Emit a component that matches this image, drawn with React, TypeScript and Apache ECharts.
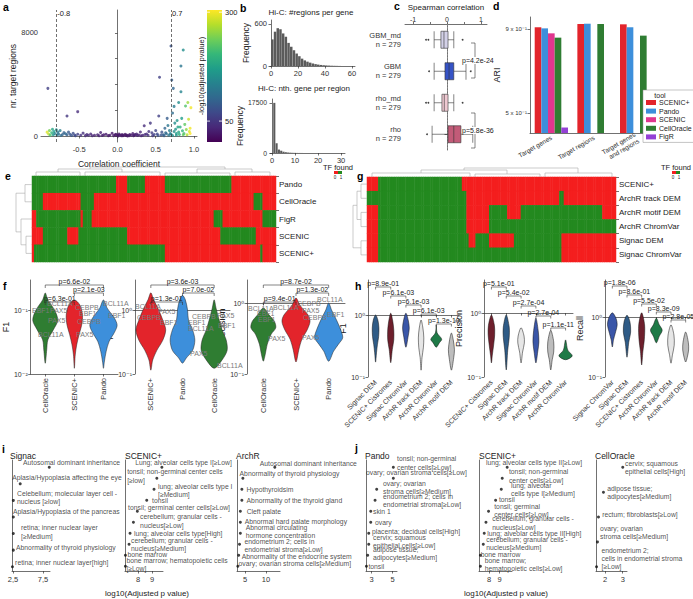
import React, { useEffect, useRef } from 'react';
import * as echarts from 'echarts';

const FONT = "'Liberation Sans', Arial, 'DejaVu Sans', sans-serif";

// ---------------- a: correlation vs target regions ----------------
// [correlation, nr target regions, -log10(adj p)]
const aPoints = [
  [-0.92, 300, 290], [-0.9, 150, 275], [-0.89, 420, 240], [-0.88, 60, 220], [-0.86, 250, 200], [-0.85, 520, 180],
  [-0.84, 100, 165], [-0.83, 350, 170], [-0.82, 200, 140], [-0.8, 480, 150], [-0.79, 80, 130], [-0.78, 300, 125],
  [-0.77, 150, 115], [-0.75, 420, 130], [-0.74, 40, 110], [-0.72, 120, 100], [-0.7, 260, 95], [-0.68, 180, 105],
  [-0.66, 90, 95], [-0.64, 300, 88], [-0.62, 130, 85], [-0.6, 40, 80], [-0.58, 210, 75], [-0.56, 80, 70],
  [-0.55, 20, 70], [-0.52, 140, 60], [-0.48, 60, 45], [-0.45, 220, 45], [-0.42, 30, 38], [-0.4, 110, 40],
  [-0.38, 60, 40], [-0.35, 160, 35], [-0.33, 20, 32], [-0.3, 60, 30], [-0.26, 100, 30], [-0.24, 20, 28],
  [-0.22, 270, 30], [-0.2, 40, 25], [-0.18, 90, 25], [-0.15, 130, 25], [-0.12, 30, 22], [-0.1, 60, 20],
  [-0.07, 210, 20], [-0.05, 30, 20], [-0.03, 90, 20], [-0.02, 140, 20], [0.0, 50, 20], [0.01, 10, 20],
  [0.02, 160, 20], [0.03, 80, 20], [0.05, 30, 20], [0.06, 120, 20], [0.07, 20, 20], [0.08, 60, 20],
  [0.1, 130, 20], [0.11, 40, 20], [0.12, 70, 20], [0.13, 10, 20], [0.15, 30, 22], [0.16, 110, 22],
  [0.18, 60, 25], [0.2, 200, 25], [0.21, 20, 25], [0.22, 60, 25], [0.23, 110, 28], [0.25, 150, 30],
  [0.26, 40, 30], [0.28, 80, 30], [0.3, 310, 35], [0.31, 20, 32], [0.33, 50, 35], [0.35, 800, 40],
  [0.36, 120, 40], [0.38, 160, 40], [0.4, 60, 45], [0.41, 350, 45], [0.43, 1000, 50], [0.45, 250, 55],
  [0.46, 30, 50], [0.48, 110, 60], [0.5, 420, 65], [0.52, 150, 70], [0.53, 40, 75], [0.54, 1550, 60],
  [0.55, 4560, 60], [0.57, 80, 80], [0.58, 300, 80], [0.6, 100, 90], [0.61, 30, 95], [0.62, 600, 100],
  [0.63, 250, 105], [0.64, 180, 110], [0.65, 1370, 90], [0.66, 820, 120], [0.67, 60, 120], [0.68, 420, 130],
  [0.69, 200, 125], [0.7, 6990, 80], [0.7, 140, 140], [0.71, 4350, 90], [0.72, 1780, 110], [0.72, 40, 150],
  [0.73, 3700, 100], [0.74, 2300, 130], [0.74, 350, 150], [0.75, 1000, 150], [0.76, 520, 160], [0.77, 200, 170],
  [0.77, 60, 160], [0.78, 1200, 160], [0.79, 700, 175], [0.8, 300, 180], [0.8, 2600, 150], [0.81, 120, 190],
  [0.82, 700, 190], [0.83, 5440, 120], [0.83, 3440, 140], [0.84, 1370, 170], [0.85, 400, 200], [0.86, 6680, 150],
  [0.86, 100, 230], [0.87, 200, 220], [0.88, 900, 230], [0.89, 2330, 220], [0.9, 500, 250], [0.91, 100, 270],
  [0.92, 2600, 260], [0.93, 1300, 280], [0.94, 350, 290], [0.95, 600, 300], [0.96, 2200, 300], [0.95, 200, 305],
  [-0.91, 3700, 60], [-0.66, 1550, 50], [-0.52, 1890, 40],
];
const aThresholds = [-0.8, 0.7];
const aPvalRange = [2, 305];
const aColorbarTicks = [50, 300];
const viridis = ['#440154', '#482878', '#3e4989', '#31688e', '#26828e', '#1f9e89', '#35b779', '#6ece58', '#b5de2b', '#fde725'];

// ---------------- b: Hi-C histograms ----------------
const bRegionsBins = [1, 3, 5, 7, 9, 11, 13, 15, 17, 19, 21, 23, 25, 27, 29, 31, 33, 35, 37, 39, 41, 43, 45, 47, 49, 51];
const bRegionsFreq = [380, 490, 540, 525, 465, 418, 330, 275, 225, 178, 140, 105, 80, 62, 48, 36, 27, 20, 15, 11, 8, 6, 4, 3, 2, 1];
const bGeneBins = [1, 2, 3, 4, 5, 6, 7, 8, 9, 10, 11, 12, 13, 14, 15, 16, 17, 18];
const bGeneFreq = [17500, 3400, 1200, 800, 450, 280, 170, 110, 70, 45, 30, 20, 13, 8, 5, 3, 2, 1];

// ---------------- c: Spearman boxplots ----------------
const cGroups = ['GBM_md\nn = 279', 'GBM\nn = 279', 'rho_md\nn = 279', 'rho\nn = 279'];
const cBoxStats = [
  [-0.38, -0.18, -0.09, 0.03, 0.2],
  [-0.38, -0.06, 0.06, 0.2, 0.56],
  [-0.38, -0.15, -0.08, 0.03, 0.2],
  [-0.44, 0.03, 0.2, 0.41, 0.76],
];
const cOutliers = [[-0.62, 0], [-0.55, 0], [0.46, 0], [-0.53, 1], [0.7, 1], [-0.62, 2], [-0.55, 2], [0.46, 2], [-0.59, 3]];
const cColors = ['#d3d1e8', '#3553c6', '#efc9d2', '#c25b78'];
const cPvals = ['p=4.2e-24', 'p=5.8e-36'];

// ---------------- d: ARI bars ----------------
const dCategories = ['Target genes', 'Target regions', 'Target genes\nand regions'];
const dTools = ['SCENIC+', 'Pando', 'SCENIC', 'CellOracle', 'FigR'];
const dScenicPlus = [0.911, 0.932, 0.93];
const dPando = [0.904, 0.934, 0.911];
const dScenic = [0.873, null, null];
const dCellOracle = [0.847, 0.932, 0.859];
const dFigR = [0.451, null, null];
const dToolColors = ['#e3242b', '#3d8fdb', '#e0368e', '#2f7d32', '#9440d6'];
const dAxisRange = [0.434, 0.979];
const dTicks = [0.5, 0.9];

// ---------------- e / g: TF found heatmaps (run-length: [found, columns]) ----------------
const eRows = ['Pando', 'CellOracle', 'FigR', 'SCENIC', 'SCENIC+'];
const ePandoRuns = [[1, 38], [0, 5], [1, 8], [0, 9], [1, 30], [0, 20]];
const eCellOracleRuns = [[1, 5], [0, 17], [1, 6], [0, 72], [1, 4], [0, 6]];
const eFigRRuns = [[0, 2], [1, 20], [0, 1], [1, 4], [0, 55], [1, 4], [0, 18], [1, 6]];
const eScenicRuns = [[0, 5], [1, 11], [0, 5], [1, 22], [0, 42], [1, 16], [0, 9]];
const eScenicPlusRuns = [[0, 1], [1, 59], [0, 43], [1, 1], [0, 6]];

const gRows = ['SCENIC+', 'ArchR track DEM', 'ArchR motif DEM', 'ArchR ChromVar', 'Signac DEM', 'Signac ChromVar'];
const gScenicPlusRuns = [[0, 5], [1, 37], [0, 68]];
const gArchrTrackRuns = [[1, 44], [0, 41], [1, 2], [0, 23]];
const gArchrMotifRuns = [[0, 5], [1, 39], [0, 10], [1, 8], [0, 6], [1, 36], [0, 6]];
const gArchrChromVarRuns = [[0, 5], [1, 39], [0, 10], [1, 56]];
const gSignacDemRuns = [[0, 5], [1, 40], [0, 3], [1, 6], [0, 11], [1, 21], [0, 24]];
const gSignacChromVarRuns = [[0, 5], [1, 81], [0, 24]];
const TF_RED = '#f41e1e';
const TF_GREEN = '#23891f';

// ---------------- f: violins (knots: [log10 value, half width as band fraction]) ----------------
const fF1Cats = ['CellOracle', 'SCENIC+', 'Pando'];
const fF1Knots = [
  [[-0.72, 0], [-0.83, 0.09], [-0.99, 0.32], [-1.15, 0.43], [-1.3, 0.28], [-1.46, 0.09], [-1.62, 0.05], [-1.83, 0]],
  [[-0.83, 0], [-0.91, 0.19], [-1.07, 0.28], [-1.23, 0.25], [-1.38, 0.16], [-1.54, 0.08], [-1.7, 0.03], [-1.91, 0]],
  [[-0.83, 0], [-0.96, 0.13], [-1.12, 0.38], [-1.23, 0.47], [-1.34, 0.38], [-1.49, 0.19], [-1.65, 0.09], [-1.81, 0.03], [-1.91, 0]],
];
const fRecallCats = ['SCENIC+', 'Pando', 'CellOracle'];
const fRecallKnots = [
  [[0.27, 0], [0.16, 0.09], [0, 0.25], [-0.16, 0.38], [-0.31, 0.47], [-0.47, 0.38], [-0.63, 0.19], [-0.78, 0.06], [-0.94, 0]],
  [[0.23, 0], [0.16, 0.09], [0, 0.16], [-0.16, 0.19], [-0.31, 0.32], [-0.47, 0.39], [-0.63, 0.32], [-0.75, 0.12], [-0.83, 0]],
  [[0.16, 0], [0.03, 0.06], [-0.16, 0.16], [-0.31, 0.25], [-0.47, 0.38], [-0.63, 0.41], [-0.78, 0.25], [-0.91, 0]],
];
const fPrecisionCats = ['CellOracle', 'SCENIC+', 'Pando'];
const fPrecisionKnots = [
  [[-0.07, 0], [-0.17, 0.18], [-0.26, 0.34], [-0.35, 0.38], [-0.44, 0.24], [-0.58, 0.12], [-0.72, 0.06], [-0.82, 0]],
  [[0.07, 0], [-0.03, 0.12], [-0.17, 0.37], [-0.26, 0.43], [-0.38, 0.34], [-0.51, 0.18], [-0.65, 0.09], [-0.83, 0]],
  [[0, 0], [-0.1, 0.09], [-0.24, 0.24], [-0.38, 0.37], [-0.49, 0.43], [-0.58, 0.3], [-0.68, 0.15], [-0.82, 0]],
];
const fToolColors = { CellOracle: '#2f7d32', 'SCENIC+': '#e3242b', Pando: '#3d8fdb' };
const fF1Comparisons = [[0, 2, 'p=6.6e-02'], [1, 2, 'p=2.1e-03'], [0, 1, 'p=6.3e-01']];
const fRecallComparisons = [[0, 2, 'p=3.6e-03'], [1, 2, 'p=7.0e-02'], [0, 1, 'p=1.3e-01']];
const fPrecisionComparisons = [[0, 2, 'p=8.7e-02'], [1, 2, 'p=1.3e-02'], [0, 1, 'p=9.4e-01']];
const fGeneLabels = [
  [32, 310, 'EBF1'], [47, 303, 'BCL11A'], [50, 310, 'PAX5'], [48, 320, 'PAX5'], [38, 334, 'BCL11A'],
  [75, 307, 'CEBPB'], [79, 313, 'EBF1'], [77, 321, 'CEBPB'], [76, 334, 'PAX5'], [103, 303, 'BCL11A'], [108, 315, 'EBF1'],
  [135, 306, 'BCL11A'], [137, 317, 'CEBPB'], [158, 311, 'PAX5'], [160, 322, 'EBF1'], [192, 316, 'CEBPB'],
  [188, 322, 'EBF1'], [188, 328, 'BCL11A'], [190, 353, 'PAX5'], [217, 315, 'PAX5'], [218, 325, 'EBF1'], [217, 365, 'BCL11A'],
  [248, 308, 'BCL11A'], [257, 313, 'EBF1'], [258, 319, 'EBF1'], [268, 338, 'PAX5'], [273, 307, 'BCL11A'],
  [297, 303, 'CEBPB'], [302, 310, 'PAX5'], [303, 317, 'CEBPB'], [302, 337, 'PAX5'], [317, 299, 'BCL11A'], [327, 314, 'EBF1'],
];

// ---------------- h: violins ----------------
const hF1Cats = ['Signac DEM', 'SCENIC+ Cistromes', 'Signac ChromVar', 'ArchR track DEM', 'ArchR ChromVar', 'ArchR motif DEM'];
const hF1Knots = [
  [[0, 0], [-0.08, 0.15], [-0.21, 0.22], [-0.35, 0.2], [-0.48, 0.12], [-0.61, 0.06], [-0.76, 0]],
  [[0.03, 0], [-0.08, 0.12], [-0.24, 0.2], [-0.4, 0.2], [-0.56, 0.1], [-0.77, 0]],
  [[0.03, 0], [-0.08, 0.15], [-0.21, 0.22], [-0.34, 0.15], [-0.52, 0]],
  [[-0.08, 0], [-0.21, 0.12], [-0.37, 0.18], [-0.53, 0.15], [-0.69, 0.06], [-0.89, 0]],
  [[-0.16, 0], [-0.29, 0.06], [-0.39, 0.36], [-0.45, 0.2], [-0.52, 0]],
  [[-0.29, 0], [-0.4, 0.12], [-0.56, 0.2], [-0.69, 0.15], [-0.89, 0]],
];
const hPrecisionCats = ['SCENIC+ Cistromes', 'Signac DEM', 'ArchR track DEM', 'Signac ChromVar', 'ArchR motif DEM', 'ArchR ChromVar'];
const hPrecisionKnots = [
  [[-0.03, 0], [-0.19, 0.2], [-0.34, 0.22], [-0.5, 0.15], [-0.66, 0.06], [-0.78, 0]],
  [[-0.03, 0], [-0.22, 0.2], [-0.38, 0.2], [-0.58, 0.1], [-0.89, 0]],
  [[-0.23, 0], [-0.36, 0.2], [-0.47, 0.22], [-0.61, 0.1], [-0.78, 0]],
  [[-0.08, 0], [-0.27, 0.15], [-0.45, 0.2], [-0.61, 0.12], [-0.78, 0]],
  [[-0.27, 0], [-0.45, 0.2], [-0.61, 0.2], [-0.73, 0.1], [-0.89, 0]],
  [[-0.42, 0], [-0.58, 0.15], [-0.67, 0.45], [-0.73, 0]],
];
const hRecallCats = ['Signac ChromVar', 'Signac DEM', 'SCENIC+ Cistromes', 'ArchR ChromVar', 'ArchR track DEM', 'ArchR motif DEM'];
const hRecallKnots = [
  [[0.07, 0], [-0.02, 0.25], [-0.13, 0.33], [-0.27, 0.2], [-0.38, 0.08], [-0.5, 0]],
  [[0.03, 0], [-0.08, 0.2], [-0.25, 0.25], [-0.42, 0.12], [-0.67, 0]],
  [[0.07, 0], [-0.13, 0.2], [-0.38, 0.18], [-0.58, 0.08], [-0.8, 0]],
  [[-0.02, 0], [-0.13, 0.2], [-0.22, 0.4], [-0.32, 0.2], [-0.43, 0]],
  [[-0.13, 0], [-0.3, 0.2], [-0.47, 0.22], [-0.63, 0.1], [-0.77, 0]],
  [[-0.25, 0], [-0.42, 0.18], [-0.55, 0.2], [-0.68, 0.1], [-0.75, 0]],
];
const hMethodColors = {
  'Signac DEM': '#2f5b86', 'SCENIC+ Cistromes': '#6e1f2c', 'Signac ChromVar': '#3a56a8',
  'ArchR track DEM': '#e6e6e6', 'ArchR ChromVar': '#1f7a47', 'ArchR motif DEM': '#bdbdbd',
};
const hF1Pvals = ['p=8.9e-01', 'p=6.1e-03', 'p=6.1e-03', 'p=6.1e-03', 'p=1.3e-10'];
const hPrecisionPvals = ['p=5.1e-01', 'p=5.4e-02', 'p=2.7e-04', 'p=2.7e-04', 'p=1.1e-11'];
const hRecallPvals = ['p=1.8e-06', 'p=8.6e-01', 'p=5.5e-02', 'p=8.3e-09', 'p=2.8e-05'];

// ---------------- i / j: enrichment terms ----------------
const iSignacTerms = ['Autosomal dominant inheritance', 'Aplasia/Hypoplasia affecting the eye', 'Celebellum; molecular layer cell -\nnucleus [≥low]', 'Aplasia/Hypoplasia of the pancreas', 'retina; inner nuclear layer\n[≥Medium]', 'Abnormality of thyroid physiology', 'retina; inner nuclear layer[high]'];
const iSignacLogP = [8.55, 3.7, 2.55, 2.55, 2.55, 2.55, 2.4];
const iScenicTerms = ['Lung; alveolar cells type I[≥Low]', 'tonsil; non-germinal center cells\n[≥low]', 'lung; alveolar cells type I\n[≥Medium]', 'tonsil', 'tonsil; germinal center cells[≥Low]', 'cerebellum; granular cells -\nnucleus[≥Low]', 'lung; alveolar cells type[High]', 'cerebellum; granular cells -\nnucleus[≥Medium]', 'bone marrow', 'bone marrow; hematopoietic cells\n[≥Low]'];
const iScenicLogP = [9.7, 9.34, 9.14, 8.62, 7.95, 7.67, 7.43, 7.36, 7.1, 7.1];
const iArchrTerms = ['Autosomal dominant inheritance', 'Abnormality of thyroid physiology', 'Hypothyroidsim', 'Abnormality of the thyroid gland', 'Cleft palate', 'Abnormal hard palate morphology', 'Abnormal circulating\nhormone concentration', 'endometrium 2; cells in\nendometrial stroma[≥Low]', 'Abnormality of the endocrine system', 'ovary; ovarian stroma cells[≥Medium]'];
const iArchrLogP = [12.1, 4.5, 4.26, 4.26, 3.9, 3.9, 3.9, 3.7, 3.5, 3.3];
const jPandoTerms = ['tonsil; non-germinal\ncenter cells[≥Low]', 'ovary; ovarian stroma cells[≥Low]', 'ovary; ovarian\nstroma cells[≥Medium]', 'endometrium 2; cells in\nendometrial stroma[≥Low]', 'skin 1', 'ovary', 'placenta; decidual cells[High]', 'cervix; squamous\nepithelial cells[≥Low]', 'adipose tissue;\nadipocytes[≥Medium]', 'tonsil'];
const jPandoLogP = [5.06, 5.06, 3.48, 3.32, 2.91, 2.91, 2.72, 2.72, 2.62, 2.5];
const jScenicTerms = ['lung; alveolar cells type II[≥Low]', 'tonsil; non-germinal\ncenter cells[≥Low]', 'lung; alveolar\ncells type I[≥Medium]', 'tonsil', 'tonsil; germinal\ncenter cells[≥Low]', 'cerebellum; granular cells -\nnucleus[≥Low]', 'lung; alveolar cells type II[High]', 'cerebellum; granular cells -\nnucleus[≥Medium]', 'bone marrow', 'bone marrow;\nhematopoietic cells[≥Low]'];
const jScenicLogP = [9.7, 9.24, 9.15, 8.62, 7.96, 7.72, 7.56, 7.47, 7.2, 7.2];
const jCellOracleTerms = ['cervix; squamous\nepithelial cells[High]', 'adipose tissue;\nadipocytes[≥Medium]', 'rectum; fibroblasts[≥Low]', 'ovary; ovarian\nstroma cells[≥Medium]', 'endometrium 2;\ncells in endometrial stroma\n[≥Low]'];
const jCellOracleLogP = [3.0, 1.91, 1.63, 1.57, 1.52];

// label offsets (layout) relative to each dot: [dx to text left, dy to text middle]
const iSignacLabelOffsets = [[-26.3, -4.3], [-8, -6], [3.7, -3.2], [-0.3, -5], [7.7, -1.5], [2.7, -2.7], [2.7, -3.7]];
const iScenicLabelOffsets = [[-26.7, -5.3], [-29.7, -2.3], [4, 1], [5.3, 0], [-9.3, -3.7], [6.7, -1.2], [4, 0], [2, 0.5], [2, -1], [1, -2]];
const iArchrLabelOffsets = [[-15, -4], [-3.3, -5], [4.7, 0], [4.7, 0], [6.3, 0], [4.3, -1], [5.3, -1.5], [5, 1], [3, 1], [0.7, -3]];
const jPandoLabelOffsets = [[3.7, -4.3], [-27.3, -5.3], [6.3, -2], [8, 0], [2.3, 0], [4.3, 0], [3.3, -2], [4.3, -3], [5.3, -1.5], [2, 0]];
const jScenicLabelOffsets = [[-21.3, -5.3], [6.7, -2.3], [9.7, 0], [3.3, -0.7], [5.7, -0.7], [6.3, 0.8], [3, 0], [3, -0.5], [0.3, -1], [4.3, -2]];
const jCellOracleLabelOffsets = [[2.3, 0.2], [3.7, 0], [3.7, -2.7], [2.7, -9.2], [5, -8.4]];

// ---------------- helpers ----------------
const SUP: Record<string, string> = { '-': '⁻', '0': '⁰', '1': '¹', '2': '²', '3': '³' };
const pow10Label = (v: number) => '10' + String(Math.round(v)).split('').map((c) => SUP[c] || c).join('');
const plain = (v: number) => String(v);

const axBase = (gridIndex: number) => ({
  gridIndex,
  axisLine: { show: true, lineStyle: { color: '#333', width: 0.7 } },
  axisTick: { show: true, length: 2.5, lineStyle: { color: '#333', width: 0.7 } },
  axisLabel: { fontSize: 7.5, color: '#333', margin: 3, fontFamily: FONT },
  splitLine: { show: false },
  nameTextStyle: { fontSize: 8.5, color: '#222', fontFamily: FONT },
});
function ax(gridIndex: number, extra: any) {
  const base: any = axBase(gridIndex);
  const out: any = { ...base, ...extra };
  for (const k of ['axisLine', 'axisTick', 'axisLabel', 'nameTextStyle']) {
    if (extra[k]) out[k] = { ...base[k], ...extra[k] };
  }
  return out;
}
const expandRuns = (runs: number[][]) => {
  const out: number[] = [];
  runs.forEach(([v, n]) => { for (let k = 0; k < n; k++) out.push(v); });
  return out;
};

function buildOption() {
  const grids: any[] = [];
  const xAxes: any[] = [];
  const yAxes: any[] = [];
  const series: any[] = [];
  const addGrid = (g: any) => { grids.push(g); return grids.length - 1; };
  const addX = (a: any) => { xAxes.push(a); return xAxes.length - 1; };
  const addY = (a: any) => { yAxes.push(a); return yAxes.length - 1; };
  const idx: any = {};

  // ---- a
  const gA = addGrid({ left: 41, top: 10, width: 156, height: 132 });
  const xa = addX(ax(gA, {
    type: 'value', min: -1, max: 1.04, name: 'Correlation coefficient', nameLocation: 'middle', nameGap: 17,
    axisLabel: { customValues: [-0.5, 0, 0.5, 1], formatter: (v: number) => v.toFixed(1) },
    axisTick: { customValues: [-0.5, 0, 0.5, 1] },
  }));
  const ya = addY(ax(gA, {
    type: 'value', min: -466, max: 9786, name: 'nr. target regions', nameLocation: 'middle', nameGap: 23,
    axisLabel: { customValues: [0, 8000], formatter: plain }, axisTick: { customValues: [0, 2000, 4000, 6000, 8000] },
  }));
  idx.a = series.length;
  series.push({
    type: 'scatter', xAxisIndex: xa, yAxisIndex: ya, data: aPoints, symbolSize: 3, silent: true,
    markLine: {
      silent: true, symbol: 'none', label: { show: false },
      lineStyle: { type: [3, 2], color: '#333', width: 0.7 },
      data: aThresholds.map((t) => ({ xAxis: t })),
    },
  });

  // ---- b
  const gB1 = addGrid({ left: 270, top: 20, width: 85, height: 46 });
  const xb1 = addX(ax(gB1, { type: 'value', min: -0.74, max: 62.2, axisLabel: { customValues: [0, 20, 40, 60], formatter: plain }, axisTick: { customValues: [0, 20, 40, 60] } }));
  const yb1 = addY(ax(gB1, { type: 'value', min: 0, max: 657, name: 'Frequency', nameLocation: 'middle', nameGap: 16, axisLabel: { customValues: [0, 600], formatter: plain }, axisTick: { customValues: [0, 600] } }));
  series.push({ type: 'bar', xAxisIndex: xb1, yAxisIndex: yb1, data: bRegionsBins.map((b, i) => [b, bRegionsFreq[i]]), barWidth: 2.5, itemStyle: { color: '#5b5b5b' }, silent: true });
  const gB2 = addGrid({ left: 270, top: 99, width: 75, height: 54 });
  const xb2 = addX(ax(gB2, { type: 'value', min: -0.87, max: 31.7, axisLabel: { customValues: [0, 10, 20, 30], formatter: plain }, axisTick: { customValues: [0, 10, 20, 30] } }));
  const yb2 = addY(ax(gB2, { type: 'value', min: 0, max: 18850, name: 'Frequency', nameLocation: 'middle', nameGap: 21, axisLabel: { customValues: [0, 17500], formatter: plain, fontSize: 6.8, hideOverlap: false }, axisTick: { customValues: [0, 17500] } }));
  series.push({ type: 'bar', xAxisIndex: xb2, yAxisIndex: yb2, data: bGeneBins.map((b, i) => [b, bGeneFreq[i]]), barWidth: 2.1, itemStyle: { color: '#5b5b5b' }, silent: true });

  // ---- c
  const gC = addGrid({ left: 405, top: 24, width: 82, height: 126 });
  const xc = addX(ax(gC, {
    type: 'value', position: 'top', min: -1.24, max: 1.18,
    axisLabel: { customValues: [-1, 0, 1], formatter: plain, fontSize: 7, margin: 1.5 }, axisTick: { customValues: [-1, -0.5, 0, 0.5, 1], length: 2 },
  }));
  const yc = addY(ax(gC, {
    type: 'category', data: cGroups, inverse: true,
    axisLabel: { fontSize: 7.5, lineHeight: 9, margin: 4, interval: 0 }, axisTick: { alignWithLabel: true },
  }));
  series.push({
    type: 'boxplot', layout: 'horizontal', xAxisIndex: xc, yAxisIndex: yc, boxWidth: [17, 17], silent: true,
    data: cBoxStats.map((s, i) => ({ value: s, itemStyle: { color: cColors[i], borderColor: '#333', borderWidth: 0.6 } })),
    markLine: { silent: true, symbol: 'none', label: { show: false }, lineStyle: { type: [1.5, 1.5], color: '#999', width: 0.7 }, data: [{ xAxis: 0 }], z: 1 },
  });
  series.push({ type: 'scatter', xAxisIndex: xc, yAxisIndex: yc, data: cOutliers, symbolSize: 1.8, itemStyle: { color: '#111' }, silent: true });

  // ---- d
  const gD = addGrid({ left: 530, top: 17, width: 128, height: 116 });
  const dMinLog = Math.log10(dAxisRange[0]);
  const dTr = (v: number | null) => (v == null ? null : Math.log10(v) - dMinLog);
  const xd = addX(ax(gD, { type: 'category', data: dCategories, axisLabel: { rotate: 30, fontSize: 6.5, lineHeight: 7.5, interval: 0, margin: 4 }, axisTick: { show: false } }));
  const yd = addY(ax(gD, {
    type: 'value', min: 0, max: Math.log10(dAxisRange[1]) - dMinLog, name: 'ARI', nameLocation: 'middle', nameGap: 22,
    axisLabel: { customValues: dTicks.map((t) => dTr(t)), fontSize: 6, formatter: (v: number) => Math.round(Math.pow(10, v + dMinLog) * 10) + ' x 10⁻¹' },
    axisTick: { customValues: dTicks.map((t) => dTr(t)) },
    nameTextStyle: { fontSize: 9 },
  }));
  [dScenicPlus, dPando, dScenic, dCellOracle, dFigR].forEach((arr, k) => {
    series.push({
      type: 'bar', name: dTools[k], xAxisIndex: xd, yAxisIndex: yd, data: arr.map(dTr),
      barGap: '0%', barCategoryGap: '22%', itemStyle: { color: dToolColors[k] }, silent: true,
    });
  });

  // ---- e & g heatmaps
  const heatData = (rowsRuns: number[][][]) => {
    const data: number[][] = [];
    rowsRuns.forEach((runs, r) => expandRuns(runs).forEach((v, c) => data.push([c, r, v])));
    return data;
  };
  const cols = Array.from({ length: 110 }, (_, i) => String(i));
  const gE = addGrid({ left: 32, top: 176, width: 244, height: 86 });
  const xe = addX({ gridIndex: gE, type: 'category', data: cols, show: false });
  const ye = addY(ax(gE, { type: 'category', data: eRows, inverse: true, position: 'right', axisLine: { show: false }, axisTick: { length: 3 }, axisLabel: { fontSize: 8, margin: 3, color: '#222' } }));
  idx.e = series.length;
  series.push({ type: 'heatmap', xAxisIndex: xe, yAxisIndex: ye, data: heatData([ePandoRuns, eCellOracleRuns, eFigRRuns, eScenicRuns, eScenicPlusRuns]), silent: true, itemStyle: { borderWidth: 0 } });
  const gG = addGrid({ left: 367, top: 177, width: 249, height: 85 });
  const xg = addX({ gridIndex: gG, type: 'category', data: cols, show: false });
  const yg = addY(ax(gG, { type: 'category', data: gRows, inverse: true, position: 'right', axisLine: { show: false }, axisTick: { length: 3 }, axisLabel: { fontSize: 8, margin: 3, color: '#222' } }));
  idx.g = series.length;
  series.push({ type: 'heatmap', xAxisIndex: xg, yAxisIndex: yg, data: heatData([gScenicPlusRuns, gArchrTrackRuns, gArchrMotifRuns, gArchrChromVarRuns, gSignacDemRuns, gSignacChromVarRuns]), silent: true, itemStyle: { borderWidth: 0 } });

  // ---- violins
  const violinRender = (knotsList: number[][][], colors: string[], stroke: string) => (params: any, api: any) => {
    const i = api.value(0);
    const knots = knotsList[i];
    const band = api.size([1, 0])[0];
    const pts: number[][] = [];
    knots.forEach(([lv, w]) => { const c = api.coord([i, lv]); pts.push([c[0] + w * band, c[1]]); });
    for (let k = knots.length - 2; k >= 1; k--) { const [lv, w] = knots[k]; const c = api.coord([i, lv]); pts.push([c[0] - w * band, c[1]]); }
    return { type: 'polygon', shape: { points: pts, smooth: 0.3 }, style: { fill: colors[i], stroke, lineWidth: 0.5 } };
  };
  const addViolinPanel = (grid: any, cats: string[], knots: number[][][], colors: string[], yMin: number, yMax: number, yTicks: number[], name: string, nameGap: number, rotate: number, stroke: string) => {
    const g = addGrid(grid);
    const x = addX(ax(g, { type: 'category', data: cats, axisLabel: { rotate, fontSize: rotate === 90 ? 7.5 : 7, interval: 0, margin: 4 }, axisTick: { alignWithLabel: true } }));
    const y = addY(ax(g, {
      type: 'value', min: yMin, max: yMax, name, nameLocation: 'middle', nameGap,
      axisLabel: { customValues: yTicks, formatter: pow10Label, fontSize: 7 }, axisTick: { customValues: yTicks },
      nameTextStyle: { fontSize: 9 },
    }));
    series.push({ type: 'custom', xAxisIndex: x, yAxisIndex: y, data: cats.map((_, i) => [i, knots[i][0][0]]), renderItem: violinRender(knots, colors, stroke), silent: true, clip: false });
    return g;
  };
  idx.fF1 = addViolinPanel({ left: 23, top: 280, width: 95, height: 94 }, fF1Cats, fF1Knots, fF1Cats.map((c) => (fToolColors as any)[c]), -2, -0.515, [-2, -1], 'F1', 14, 90, '#222');
  idx.fRec = addViolinPanel({ left: 135, top: 280, width: 95, height: 94 }, fRecallCats, fRecallKnots, fRecallCats.map((c) => (fToolColors as any)[c]), -1, 0.47, [-1, 0], 'Recall', 12, 90, '#222');
  idx.fPre = addViolinPanel({ left: 247, top: 280, width: 98, height: 94 }, fPrecisionCats, fPrecisionKnots, fPrecisionCats.map((c) => (fToolColors as any)[c]), -1, 0.324, [-1, 0], 'Precision', 13, 90, '#222');
  idx.hF1 = addViolinPanel({ left: 368, top: 280, width: 91, height: 97 }, hF1Cats, hF1Knots, hF1Cats.map((c) => (hMethodColors as any)[c]), -1, 0.565, [-1, 0], 'F1', 16, 45, '#111');
  idx.hPre = addViolinPanel({ left: 484, top: 280, width: 89, height: 97 }, hPrecisionCats, hPrecisionKnots, hPrecisionCats.map((c) => (hMethodColors as any)[c]), -1, 0.516, [-1, 0], 'Precision', 14, 45, '#111');
  idx.hRec = addViolinPanel({ left: 605, top: 280, width: 88, height: 97 }, hRecallCats, hRecallKnots, hRecallCats.map((c) => (hMethodColors as any)[c]), -1, 0.617, [-1, 0], 'Recall', 15, 45, '#111');

  // ---- i / j term panels
  const addTermPanel = (left: number, width: number, xMin: number, xMax: number, xTicks: number[], terms: string[], logp: number[], offsets: number[][], yMin: number, yMax: number, comma = false) => {
    const g = addGrid({ left, top: 460, width, height: 111 });
    const x = addX(ax(g, {
      type: 'value', min: xMin, max: xMax,
      axisLabel: { customValues: xTicks, formatter: (v: number) => (comma ? String(v).replace('.', ',') : String(v)), margin: 4 },
      axisTick: { customValues: xTicks },
    }));
    const y = addY(ax(g, { type: 'value', inverse: true, min: yMin, max: yMax, axisLabel: { show: false }, axisTick: { show: false } }));
    series.push({
      type: 'scatter', xAxisIndex: x, yAxisIndex: y, symbolSize: 3, itemStyle: { color: '#111' }, silent: true,
      data: terms.map((t, k) => ({
        value: [logp[k], k + 1],
        label: {
          show: true, formatter: t, position: [offsets[k][0] + 1.5, offsets[k][1] + 1.5], align: 'left', verticalAlign: 'middle',
          fontSize: 6.8, lineHeight: 8.2, color: '#1a1a1a', fontFamily: FONT,
        },
      })),
    });
  };
  addTermPanel(12, 38, 2.33, 8.67, [2.5, 7.5], iSignacTerms, iSignacLogP, iSignacLabelOffsets, 0.56, 7.26, true);
  addTermPanel(125, 38, 7.07, 9.78, [8, 9], iScenicTerms, iScenicLogP, iScenicLabelOffsets, 0.336, 10.43);
  addTermPanel(237, 43, 3.1, 13.34, [5, 10], iArchrTerms, iArchrLogP, iArchrLabelOffsets, 0.336, 10.43);
  addTermPanel(366, 31, 2.46, 5.41, [3, 5], jPandoTerms, jPandoLogP, jPandoLabelOffsets, 0.336, 10.43);
  addTermPanel(479, 33, 7.07, 10.15, [8, 9], jScenicTerms, jScenicLogP, jScenicLabelOffsets, 0.336, 10.43);
  addTermPanel(596, 31, 1.49, 3.24, [2, 3], jCellOracleTerms, jCellOracleLogP, jCellOracleLabelOffsets, 0.706, 5.17);

  const option = {
    animation: false,
    textStyle: { fontFamily: FONT },
    grid: grids,
    xAxis: xAxes,
    yAxis: yAxes,
    series,
    visualMap: [
      { type: 'continuous', show: false, seriesIndex: idx.a, dimension: 2, min: aPvalRange[0], max: aPvalRange[1], inRange: { color: viridis } },
      { type: 'piecewise', show: false, seriesIndex: [idx.e, idx.g], dimension: 2, pieces: [{ value: 0, color: TF_RED }, { value: 1, color: TF_GREEN }] },
    ],
    legend: {
      data: dTools, orient: 'vertical', left: 643, top: 90, itemWidth: 10, itemHeight: 5, itemGap: 1.6,
      icon: 'rect', selectedMode: false, padding: [9, 3, 2, 3],
      textStyle: { fontSize: 7, color: '#222', fontFamily: FONT, padding: [0, 0, 0, -2] },
      backgroundColor: '#fff', borderColor: '#888', borderWidth: 0.5,
    },
  };
  return { option, idx };
}

function buildGraphics(chart: any, idx: any) {
  const els: any[] = [];
  const txt = (x: number, y: number, text: string, o: any = {}) => {
    const { rotation, ...st } = o;
    els.push({ type: 'text', x, y, rotation: rotation || 0, z: 50, silent: true, style: { text, fontSize: 7.5, fill: '#222', fontFamily: FONT, align: 'left', verticalAlign: 'middle', ...st } });
  };
  const pline = (points: number[][], stroke = '#333', lw = 0.6) => {
    els.push({ type: 'polyline', z: 40, silent: true, shape: { points }, style: { stroke, lineWidth: lw, fill: 'none' } });
  };

  // panel letters
  [['a', 3, 7], ['b', 240, 8], ['c', 394, 6], ['d', 493, 6], ['e', 5, 176], ['g', 357, 176], ['f', 3, 286], ['h', 355, 286], ['i', 2, 449], ['j', 355, 448]]
    .forEach(([l, x, y]) => txt(x as number, y as number, l as string, { fontSize: 10.5, fontWeight: 'bold', fill: '#000' }));

  // titles
  txt(311, 12, 'Hi-C: #regions per gene', { align: 'center', fontSize: 8 });
  txt(304, 88, 'Hi-C: nth. gene per region', { align: 'center', fontSize: 8 });
  txt(446, 7, 'Spearman correlation', { align: 'center', fontSize: 8 });

  // a: threshold labels
  aThresholds.forEach((t) => {
    const p = chart.convertToPixel({ gridIndex: 0 }, [t, 9786]);
    txt(p[0] + 1, 13, String(t), { fontSize: 7.5 });
  });
  // a: colorbar
  const cbTop = 10, cbH = 132, cbX = 207, cbW = 15;
  els.push({
    type: 'rect', z: 40, silent: true, shape: { x: cbX, y: cbTop, width: cbW, height: cbH },
    style: { fill: { type: 'linear', x: 0, y: 1, x2: 0, y2: 0, colorStops: viridis.map((c, i) => ({ offset: i / (viridis.length - 1), color: c })) } },
  });
  aColorbarTicks.forEach((v) => {
    const y = cbTop + cbH - ((v - aPvalRange[0]) / (aPvalRange[1] - aPvalRange[0])) * cbH;
    pline([[cbX, y], [cbX + 3, y]], '#fff', 0.8);
    pline([[cbX + cbW - 3, y], [cbX + cbW, y]], '#fff', 0.8);
    txt(cbX + cbW + 3, y, String(v), { fontSize: 7.5 });
  });
  txt(201, 76, '-log10(adjusted pvalue)', { align: 'center', rotation: Math.PI / 2, fontSize: 7.5 });

  // c: brackets
  [[43, 78], [113, 148]].forEach(([y1, y2], k) => {
    pline([[471, y1], [475, y1], [475, y2], [471, y2]]);
    txt(462, (y1 + y2) / 2, cPvals[k], { fontSize: 7, backgroundColor: '#fff' });
  });

  // d legend title
  txt(660, 95, 'tool', { align: 'center', fontSize: 7 });

  // TF found legends
  [338, 676].forEach((cx) => {
    txt(cx, 167, 'TF found', { align: 'center', fontSize: 7.5 });
    els.push({ type: 'rect', z: 40, silent: true, shape: { x: cx - 4, y: 171, width: 4, height: 3 }, style: { fill: TF_RED } });
    els.push({ type: 'rect', z: 40, silent: true, shape: { x: cx, y: 171, width: 4, height: 3 }, style: { fill: TF_GREEN } });
    txt(cx - 3, 177.5, '0', { fontSize: 4.5, align: 'center' });
    txt(cx + 3, 177.5, '1', { fontSize: 4.5, align: 'center' });
  });

  // dendrograms
  const dg = '#a8a8a8';
  [
    [[32, 184.6], [25, 184.6], [25, 201.8], [32, 201.8]],
    [[32, 236.2], [26, 236.2], [26, 253.4], [32, 253.4]],
    [[32, 219], [21, 219], [21, 244.8], [26, 244.8]],
    [[25, 193.2], [16, 193.2], [16, 231.9], [21, 231.9]],
    [[36, 176], [36, 172], [80, 172], [80, 176]],
    [[85, 176], [85, 172], [160, 172], [160, 176]],
    [[165, 176], [165, 173], [230, 173], [230, 176]],
    [[235, 176], [235, 172], [270, 172], [270, 176]],
    [[58, 172], [58, 169], [122, 169], [122, 172]],
    [[197, 173], [197, 169], [252, 169], [252, 172]],
    [[90, 169], [90, 167], [225, 167], [225, 169]],
    [[367, 184.1], [361, 184.1], [361, 198.3], [367, 198.3]],
    [[367, 212.4], [361, 212.4], [361, 226.6], [367, 226.6]],
    [[367, 240.8], [361, 240.8], [361, 254.9], [367, 254.9]],
    [[361, 191.2], [357, 191.2], [357, 219.5], [361, 219.5]],
    [[357, 205.3], [353, 205.3], [353, 247.8], [361, 247.8]],
    [[372, 177], [372, 173], [470, 173], [470, 177]],
    [[475, 177], [475, 174], [540, 174], [540, 177]],
    [[545, 177], [545, 173], [612, 173], [612, 177]],
    [[421, 173], [421, 170], [507, 170], [507, 174]],
    [[464, 170], [464, 168], [578, 168], [578, 173]],
  ].forEach((p) => pline(p, dg, 0.6));

  // f gene labels
  fGeneLabels.forEach(([x, y, t]) => txt(x as number, y as number, t as string, { fontSize: 7, fill: '#7a7a7a' }));

  // f / h comparison brackets
  const bracket = (grid: number, a: number, b: number, y: number, text: string, tick: number) => {
    const xa = chart.convertToPixel({ gridIndex: grid }, [a, 0])[0];
    const xb = chart.convertToPixel({ gridIndex: grid }, [b, 0])[0];
    pline([[xa, y + tick], [xa, y], [xb, y], [xb, y + tick]], '#333', 0.6);
    txt((xa + xb) / 2, y - 0.5, text, { align: 'center', verticalAlign: 'bottom', fontSize: 7 });
  };
  const fLevels = [285, 293, 302];
  fF1Comparisons.forEach(([a, b, t], k) => bracket(idx.fF1, a as number, b as number, fLevels[k], t as string, 3));
  fRecallComparisons.forEach(([a, b, t], k) => bracket(idx.fRec, a as number, b as number, fLevels[k], t as string, 3));
  fPrecisionComparisons.forEach(([a, b, t], k) => bracket(idx.fPre, a as number, b as number, fLevels[k], t as string, 3));
  const hF1Levels = [287, 296, 305, 314, 324];
  const hPreLevels = [287, 296, 306, 316, 328];
  const hRecLevels = [286, 295, 304, 312, 320];
  hF1Pvals.forEach((t, k) => bracket(idx.hF1, k, k + 1, hF1Levels[k], t, 2.5));
  hPrecisionPvals.forEach((t, k) => bracket(idx.hPre, k, k + 1, hPreLevels[k], t, 2.5));
  hRecallPvals.forEach((t, k) => bracket(idx.hRec, k, k + 1, hRecLevels[k], t, 2.5));

  // i / j titles
  [['Signac', 10], ['SCENIC+', 125], ['ArchR', 236], ['Pando', 365], ['SCENIC+', 479], ['CellOracle', 595]]
    .forEach(([t, x]) => txt(x as number, 456, t as string, { fontSize: 8.5 }));
  txt(147, 593, 'log10(Adjusted p value)', { align: 'center', fontSize: 8 });
  txt(506, 593, 'log10(Adjusted p value)', { align: 'center', fontSize: 8 });

  return els;
}

export default function App() {
  const ref = useRef<HTMLDivElement>(null);
  useEffect(() => {
    if (!ref.current) return;
    const chart = echarts.init(ref.current, null, { renderer: 'svg' });
    const { option, idx } = buildOption();
    chart.setOption(option);
    chart.setOption({ graphic: { elements: buildGraphics(chart, idx) } });
    return () => chart.dispose();
  }, []);
  return <div ref={ref} style={{ position: 'absolute', left: 0, top: 0, width: 693, height: 599, background: '#fff' }} />;
}
